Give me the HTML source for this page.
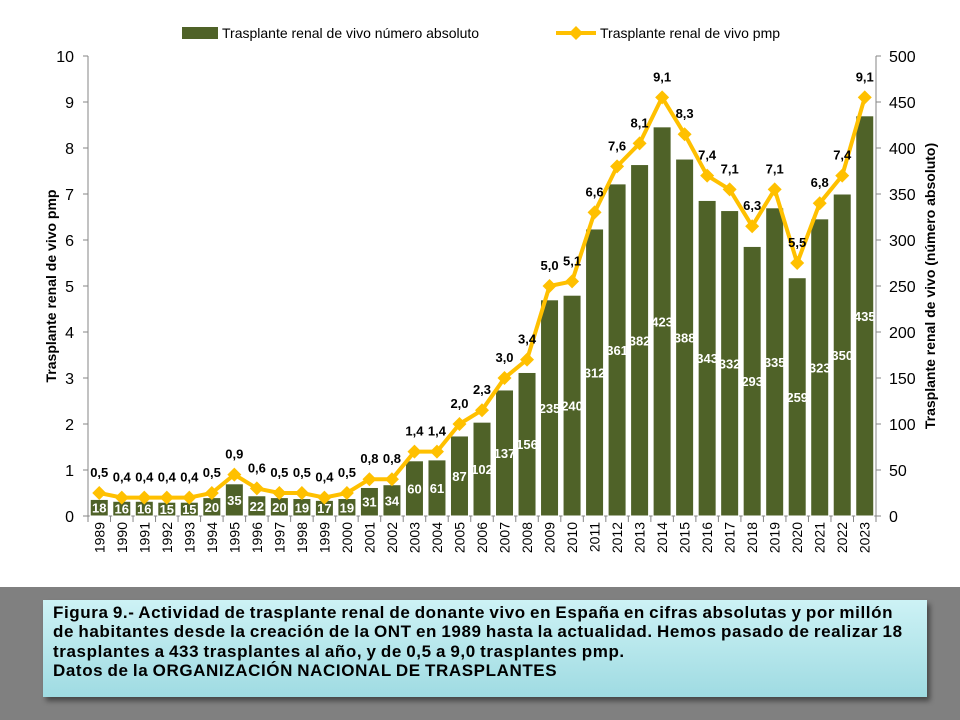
<!DOCTYPE html>
<html><head><meta charset="utf-8"><style>
body{margin:0;width:960px;height:720px;overflow:hidden;background:#fff;font-family:"Liberation Sans",sans-serif}
#cap{position:absolute;left:0;top:587px;width:960px;height:133px;background:#808080}
#box{position:absolute;left:43px;top:13px;width:884px;height:97px;background:linear-gradient(#cdf2f5,#9fdbe2);box-shadow:3px 4px 5px rgba(0,0,0,.45);box-sizing:border-box;padding:3px 10px;font-weight:bold;font-size:17px;line-height:19.3px;color:#000;letter-spacing:0.6px;word-spacing:-1px;white-space:nowrap}
</style></head><body>
<svg id="chart" width="960" height="590" style="position:absolute;left:0;top:0"></svg>
<div id="cap"><div id="box">Figura 9.- Actividad de trasplante renal de donante vivo en España en cifras absolutas y por millón<br>de habitantes desde la creación de la ONT en 1989 hasta la actualidad. Hemos pasado de realizar 18<br>trasplantes a 433 trasplantes al año, y de 0,5 a 9,0 trasplantes pmp.<br>Datos de la ORGANIZACIÓN NACIONAL DE TRASPLANTES</div></div>
<script>
const years=[1989,1990,1991,1992,1993,1994,1995,1996,1997,1998,1999,2000,2001,2002,2003,2004,2005,2006,2007,2008,2009,2010,2011,2012,2013,2014,2015,2016,2017,2018,2019,2020,2021,2022,2023];
const absVals=[18,16,16,15,15,20,35,22,20,19,17,19,31,34,60,61,87,102,137,156,235,240,312,361,382,423,388,343,332,293,335,259,323,350,435];
const pmpVals=[0.5,0.4,0.4,0.4,0.4,0.5,0.9,0.6,0.5,0.5,0.4,0.5,0.8,0.8,1.4,1.4,2.0,2.3,3.0,3.4,5.0,5.1,6.6,7.6,8.1,9.1,8.3,7.4,7.1,6.3,7.1,5.5,6.8,7.4,9.1];
const leftTicks=[0,1,2,3,4,5,6,7,8,9,10];
const rightTicks=[0,50,100,150,200,250,300,350,400,450,500];
const NS='http://www.w3.org/2000/svg',svg=document.getElementById('chart');
const X0=88,X1=876,Y0=516,Y1=56;
const bw=(X1-X0)/years.length;
const xc=i=>X0+bw*(i+0.5);
const yL=v=>Y0-(Y0-Y1)*v/10;
const yR=v=>Y0-(Y0-Y1)*v/500;
function mk(t,a,txt){const e=document.createElementNS(NS,t);for(const k in a)e.setAttribute(k,a[k]);if(txt!=null)e.textContent=txt;svg.appendChild(e);return e;}
const fmt=v=>v.toFixed(1).replace('.',',');
let e=mk('line',{x1:X0,y1:Y1,x2:X0,y2:Y0+6,stroke:'#868686'});

e=mk('line',{x1:X1,y1:Y1,x2:X1,y2:Y0+6,stroke:'#868686'});

e=mk('line',{x1:X0,y1:Y0,x2:X1,y2:Y0,stroke:'#868686'});

leftTicks.forEach(v=>{mk('line',{x1:X0-5,y1:yL(v),x2:X0,y2:yL(v),stroke:'#868686'});
e=mk('text',{x:X0-14,y:yL(v)+6,'text-anchor':'end','font-size':16,fill:'#000'},v);
});
rightTicks.forEach(v=>{mk('line',{x1:X1,y1:yR(v),x2:X1+5,y2:yR(v),stroke:'#868686'});
e=mk('text',{x:X1+13,y:yR(v)+6,'font-size':16,fill:'#000'},v);
});
years.forEach((y,i)=>{mk('line',{x1:X0+bw*i,y1:Y0,x2:X0+bw*i,y2:Y0+6,stroke:'#868686'});
e=mk('text',{transform:`translate(${xc(i)+5},${Y0+6}) rotate(-90)`,'text-anchor':'end','font-size':14,fill:'#000'},y);
});
mk('line',{x1:X1,y1:Y0,x2:X1,y2:Y0+6,stroke:'#868686'});
absVals.forEach((v,i)=>{e=mk('rect',{x:xc(i)-9,y:yR(v),width:18,height:Y0-yR(v),fill:'#4f6228',stroke:'#fff','stroke-width':1});

e=mk('text',{x:xc(i),y:(yR(v)+Y0)/2+5,'text-anchor':'middle','font-size':13,'font-weight':'bold',fill:'#fff'},v);
});
e=mk('polyline',{points:pmpVals.map((v,i)=>xc(i)+','+yL(v)).join(' '),fill:'none',stroke:'#ffc000','stroke-width':4,'stroke-linejoin':'round'});

pmpVals.forEach((v,i)=>{const x=xc(i),y=yL(v);
e=mk('polygon',{points:`${x},${y-7} ${x+7},${y} ${x},${y+7} ${x-7},${y}`,fill:'#ffc000'});

e=mk('text',{x:x,y:y-16,'text-anchor':'middle','font-size':13,'font-weight':'bold',fill:'#000'},fmt(v));
});
e=mk('rect',{x:182,y:27,width:36,height:12,fill:'#4f6228'});

e=mk('text',{x:222,y:38,'font-size':14,fill:'#000'},'Trasplante renal de vivo número absoluto');

e=mk('line',{x1:556,y1:33,x2:596,y2:33,stroke:'#ffc000','stroke-width':4});

mk('polygon',{points:'576,26 583,33 576,40 569,33',fill:'#ffc000'});
e=mk('text',{x:600,y:38,'font-size':14,fill:'#000'},'Trasplante renal de vivo pmp');

e=mk('text',{transform:'translate(56,286) rotate(-90)','text-anchor':'middle','font-size':14,'font-weight':'bold',fill:'#000'},'Trasplante renal de vivo pmp');

e=mk('text',{transform:'translate(935,286) rotate(-90)','text-anchor':'middle','font-size':14,'font-weight':'bold',fill:'#000'},'Trasplante renal de vivo (número absoluto)');

</script>
</body></html>
